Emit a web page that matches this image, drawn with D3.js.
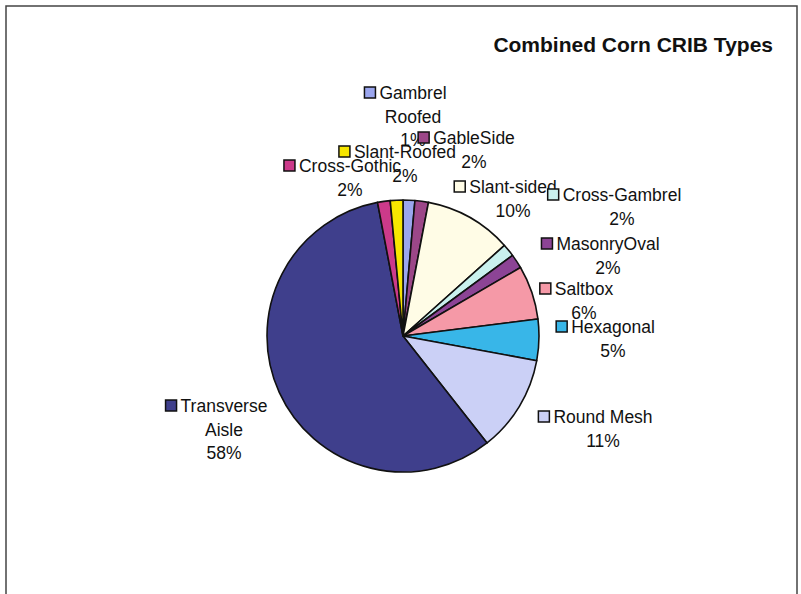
<!DOCTYPE html>
<html>
<head>
<meta charset="utf-8">
<script src="https://cdn.jsdelivr.net/npm/d3@7"></script>
<style>
    body { margin: 0; background: #fff; }
    svg text { font-family: "Liberation Sans", Arial, sans-serif; fill: #111; }
</style>
</head>
<body>
<div id="chart"></div>
<script>
// slice order follows the original sheet, clockwise from 12 o'clock
var categories = ["Gambrel Roofed", "GableSide", "Slant-sided", "Cross-Gambrel", "MasonryOval",
    "Saltbox", "Hexagonal", "Round Mesh", "Transverse Aisle", "Cross-Gothic", "Slant-Roofed"];
var values = [1.4, 1.6, 10.4, 1.5, 1.7, 6.4, 4.9, 11.49, 57.6, 1.5, 1.5];

var colors = ["#9ba6ee", "#9c4788", "#fffce6", "#c9f1ee", "#8c4495",
    "#f599a7", "#38b6e8", "#cbd0f6", "#3f3f8c", "#cc3a8a", "#f7e600"];

// label anchor per slice: [center x, first baseline y]  (hand placed, like Excel)
var labelPos = [[413, 99], [474, 144], [513, 193], [622, 201], [608, 250],
    [584, 295], [613, 333], [603, 423], [224, 412], [350, 172], [405, 158]];
// names that wrap onto two lines
var wrapped = { "Gambrel Roofed": ["Gambrel", "Roofed"], "Transverse Aisle": ["Transverse", "Aisle"] };

var width = 801, height = 594;
var cx = 403, cy = 336, radius = 136;
var lineGap = 23.5, keySize = 11;

var svg = d3.select("#chart").append("svg")
    .attr("width", width)
    .attr("height", height);

// outer frame (bottom runs off the page)
svg.append("path")
    .attr("d", "M6,600 L6,6 L797,6 L797,600")
    .attr("fill", "none")
    .attr("stroke", "#444")
    .attr("stroke-width", 1.5);

svg.append("text")
    .attr("x", 773)
    .attr("y", 52)
    .attr("text-anchor", "end")
    .style("font-size", "21px")
    .style("font-weight", "bold")
    .text("Combined Corn CRIB Types");

var total = d3.sum(values);
var data = categories.map(function (c, i) { return { key: c, value: values[i], i: i }; });

var pie = d3.pie()
    .value(function (d) { return d.value; })
    .sort(null);

var arc = d3.arc()
    .innerRadius(0)
    .outerRadius(radius);

var g = svg.append("g")
    .attr("transform", "translate(" + cx + "," + cy + ")");

g.selectAll("path")
    .data(pie(data))
    .enter().append("path")
    .attr("d", arc)
    .attr("fill", function (d) { return colors[d.data.i]; })
    .attr("stroke", "#111")
    .attr("stroke-width", 1.6)
    .attr("stroke-linejoin", "round");

// labels: legend key + category name + percent
var fmt = function (v) { return Math.round(v / total * 100) + "%"; };

data.forEach(function (d) {
    var pos = labelPos[d.i];
    var lines = (wrapped[d.key] || [d.key]).concat([fmt(d.value)]);
    var lg = svg.append("g").attr("class", "label");
    var first = null;
    lines.forEach(function (t, k) {
        var txt = lg.append("text")
            .attr("x", pos[0])
            .attr("y", pos[1] + k * lineGap)
            .attr("text-anchor", "middle")
            .style("font-size", "17.5px")
            .text(t);
        if (k == 0) first = txt;
    });
    var w = first.node().getComputedTextLength();
    lg.insert("rect", "text")
        .attr("x", pos[0] - w / 2 - 4 - keySize)
        .attr("y", pos[1] - keySize - 1)
        .attr("width", keySize)
        .attr("height", keySize)
        .attr("fill", colors[d.i])
        .attr("stroke", "#111")
        .attr("stroke-width", 1.5);
});
</script>
</body>
</html>
